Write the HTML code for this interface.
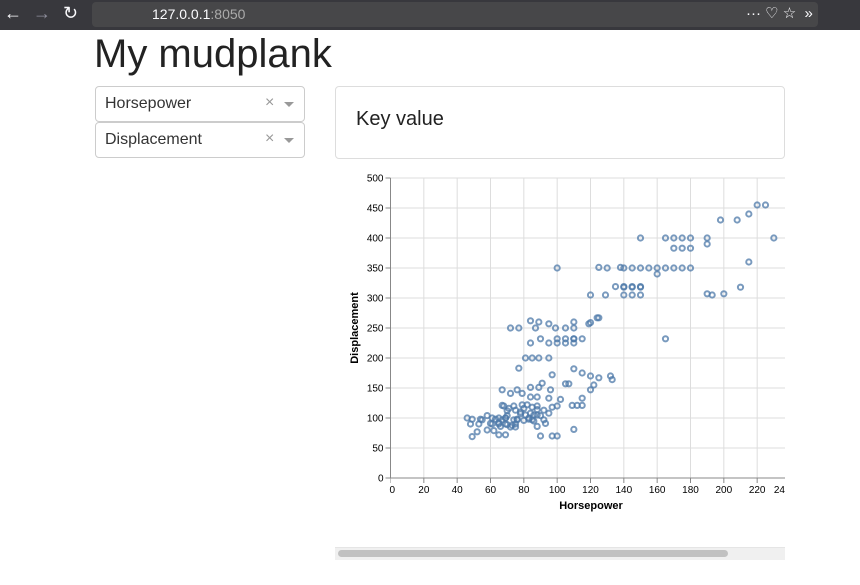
<!DOCTYPE html>
<html><head><meta charset="utf-8">
<style>
body{margin:0;width:860px;height:585px;overflow:hidden;background:#fff;font-family:"Liberation Sans",sans-serif;position:relative}
.abs{position:absolute}
.dd{position:absolute;left:95px;width:208px;height:34px;border:1px solid #ccc;border-radius:4px;background:#fff}
.dd span.t{position:absolute;left:9px;top:8px;font-size:16px;color:#333}
.dd span.x{position:absolute;left:169px;top:7px;font-size:16px;color:#999}
.dd span.a{position:absolute;left:188px;top:15px;width:0;height:0;border-left:5px solid transparent;border-right:5px solid transparent;border-top:5px solid #999}
</style></head><body>
<div class="abs" style="left:0;top:0;width:860px;height:30px;background:#38383d"></div>
<div class="abs" style="left:4px;top:3px;color:#fbfbfe;font-size:18px">←</div>
<div class="abs" style="left:33px;top:3px;color:#8f8f9d;font-size:18px">→</div>
<div class="abs" style="left:63px;top:3px;color:#fbfbfe;font-size:18px">↻</div>
<div class="abs" style="left:92px;top:2px;width:726px;height:25px;background:#474749;border-radius:4px"></div>
<div class="abs" style="left:152px;top:6px;font-size:14px;color:#fbfbfe">127.0.0.1<span style="color:#aaa">:8050</span></div>
<div class="abs" style="left:746px;top:4px;font-size:15px;color:#fbfbfe">··· ♡ ☆ &nbsp;»</div>
<div class="abs" style="left:94px;top:32px;font-size:40px;color:#222">My mudplank</div>
<div class="dd" style="top:86px"><span class="t">Horsepower</span><span class="x">×</span><span class="a"></span></div>
<div class="dd" style="top:122px"><span class="t">Displacement</span><span class="x">×</span><span class="a"></span></div>
<div class="abs" style="left:335px;top:86px;width:448px;height:71px;border:1px solid #ddd;border-radius:4px"><div style="position:absolute;left:20px;top:21px;font-size:20px;color:#222">Key value</div></div>
<svg class="abs" id="chart" style="left:335px;top:165px" width="450" height="380"></svg>
<div class="abs" style="left:335px;top:547px;width:450px;height:12px;background:#f0f0f0;border-top:1px solid #e5e5e5"></div>
<div class="abs" style="left:338px;top:550px;width:390px;height:7px;background:#c1c1c1;border-radius:4px"></div>
<script>
const hp=[150,165,170,175,180,190,230,190,170,175,180,220,225,215,198,208,215,130,140,145,150,155,160,165,170,175,180,160,140,145,150,190,200,210,193,120,129,135,140,145,150,140,145,150,120,125,165,110,125,138,100,
72,77,84,87,89,95,99,105,110,110,119,124,84,90,95,100,100,105,105,110,110,115,81,85,89,95,77,97,110,115,120,125,132,133,105,107,120,122,115,109,112,115,110,90,97,100,
67,72,76,79,84,89,91,96,84,88,95,102,67,74,79,85,88,92,97,100,46,49,54,48,53,49,52,58,61,61,65,65,65,69,69,69,65,69,76,81,88,95,76,72,60,63,67,70,75,78,80,83,86,70,68,71,74,78,82,85,88,90,93,62,66,70,75,80,84,88,92,55,58,75,83,86,73];
const disp=[400,400,400,400,400,400,400,390,383,383,383,455,455,440,430,430,360,350,350,350,350,350,350,350,350,350,350,340,318,318,318,307,307,318,305,305,305,319,319,319,319,305,305,305,259,267,232,232,351,351,350,
250,250,262,250,260,257,250,250,250,260,257,267,225,232,225,232,225,232,225,232,225,232,200,200,200,200,183,172,182,175,170,167,170,164,157,157,147,155,133,121,121,121,81,70,70,70,
147,141,147,141,151,151,158,147,135,135,133,131,121,120,122,118,120,113,118,120,100,98,98,90,90,69,77,80,90,100,90,100,72,72,90,100,92,100,98,105,105,108,97,85,91,98,97,104,113,107,116,98,105,112,120,116,97,110,122,97,114,104,91,79,86,89,85,96,108,86,97,97,104,90,100,95,88];
const xTicks=[0,20,40,60,80,100,120,140,160,180,200,220,240];
const yTicks=[0,50,100,150,200,250,300,350,400,450,500];
const NS="http://www.w3.org/2000/svg",svg=document.getElementById('chart');
const ox=55.5,oy=313;
const X=v=>ox+v*400/240, Y=v=>oy-v*300/500;
function mk(t,a,p){const e=document.createElementNS(NS,t);for(const k in a)e.setAttribute(k,a[k]);(p||svg).appendChild(e);return e;}
const clip=mk('clipPath',{id:'cp'});mk('rect',{x:ox,y:0,width:450-ox,height:340},clip);
const grid=mk('g',{'clip-path':'url(#cp)'});


xTicks.forEach(t=>{mk('line',{x1:X(t),x2:X(t),y1:Y(0),y2:Y(500),stroke:'#ddd'},grid);
 mk('line',{x1:X(t),x2:X(t),y1:oy,y2:oy+5,stroke:'#888'},grid);
 const l=mk('text',{x:X(t),y:oy+15,'font-size':10,'text-anchor':t==0?'start':(t==240?'end':'middle'),fill:'#000'});l.textContent=t;
 
 
 if(t==240){l.setAttribute('x',450);l.textContent='24';}
 if(t==0)l.setAttribute('x',X(t)-1);});
yTicks.forEach(t=>{mk('line',{x1:ox,x2:450,y1:Y(t),y2:Y(t),stroke:'#ddd'});
 mk('line',{x1:ox-5,x2:ox,y1:Y(t),y2:Y(t),stroke:'#888'});
 const l=mk('text',{x:ox-7,y:Y(t)+3.5,'font-size':10,'text-anchor':'end',fill:'#000'});l.textContent=t;
 
 });
mk('line',{x1:ox,x2:450,y1:oy,y2:oy,stroke:'#888'});
mk('line',{x1:ox,x2:ox,y1:Y(0),y2:Y(500),stroke:'#888'});
const pts=mk('g',{'clip-path':'url(#cp)'});
const n=Math.min(hp.length,disp.length);
for(let i=0;i<n;i++){const c=mk('circle',{cx:X(hp[i]),cy:Y(disp[i]),r:2.6,fill:'none',stroke:'#4c78a8','stroke-width':2,opacity:0.75},pts);
 
 }
const xt=mk('text',{x:256,y:344,'font-size':11,'font-weight':'bold','text-anchor':'middle'});xt.textContent='Horsepower';


const yt=mk('text',{x:0,y:0,'font-size':11,'font-weight':'bold','text-anchor':'middle',transform:'translate(23,163) rotate(-90)'});yt.textContent='Displacement';


</script>
</body></html>
